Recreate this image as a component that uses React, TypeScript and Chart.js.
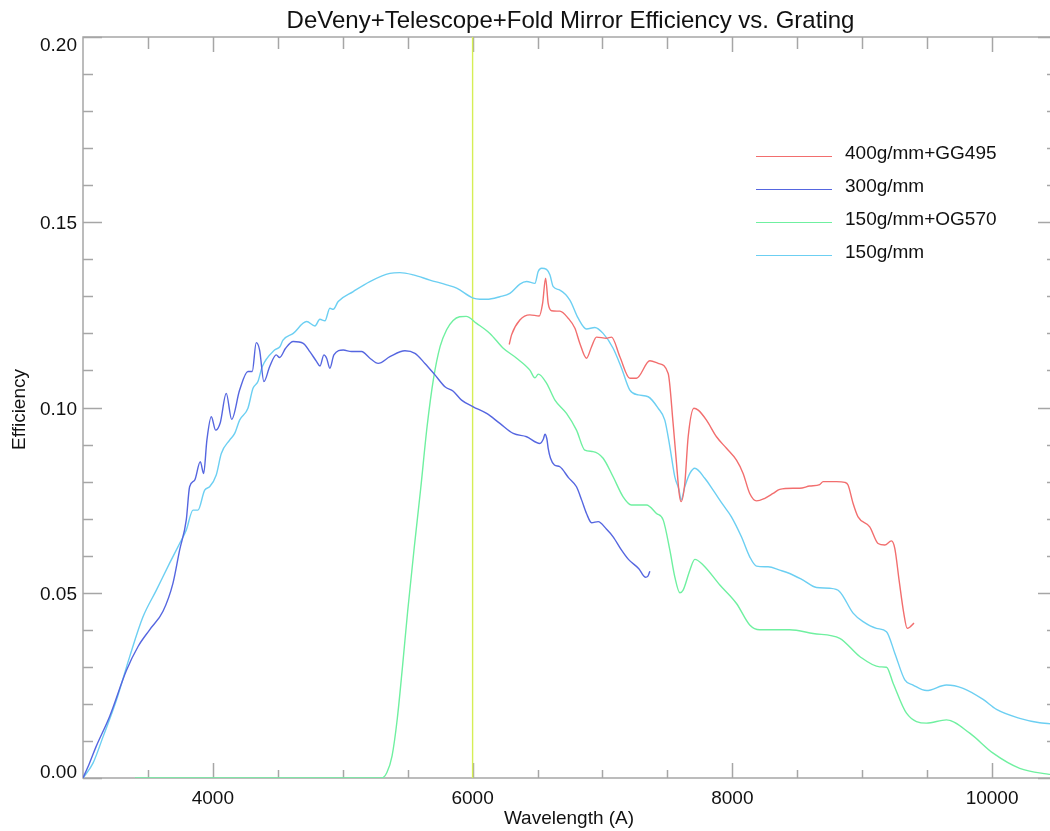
import React, { useEffect, useRef } from "react";
import { Chart, registerables } from "chart.js";

Chart.register(...registerables);

const TITLE = "DeVeny+Telescope+Fold Mirror Efficiency vs. Grating";
const X_TITLE = "Wavelength (A)";
const Y_TITLE = "Efficiency";

const X_MIN = 3000;
const X_MAX = 10500;
const Y_MIN = 0;
const Y_MAX = 0.2;
const X_TICK_LABELS = [4000, 6000, 8000, 10000];
const Y_TICK_LABELS = [0.0, 0.05, 0.1, 0.15, 0.2];
const MARKER_WAVELENGTH = 6000;

const SERIES_NAMES = ["400g/mm+GG495", "300g/mm", "150g/mm+OG570", "150g/mm"];
const SERIES_COLORS = ["#f26e6e", "#5566e0", "#6ff0a0", "#6ccff2"];

// 400g/mm+GG495
const redWl = [6282, 6300, 6364, 6441, 6513, 6539, 6562, 6582, 6608, 6672, 6736, 6788, 6826, 6877, 6916, 6954, 7031, 7070, 7134, 7211, 7262, 7365, 7429, 7506, 7544, 7570, 7590, 7605, 7634, 7660, 7704, 7737, 7801, 7878, 7955, 8032, 8083, 8134, 8186, 8250, 8314, 8365, 8468, 8519, 8596, 8673, 8699, 8802, 8866, 8891, 8930, 8968, 9058, 9122, 9174, 9225, 9251, 9284, 9320, 9346, 9366, 9399];
const redEff = [0.117, 0.1196, 0.1236, 0.125, 0.1247, 0.1281, 0.1349, 0.1281, 0.1261, 0.126, 0.1241, 0.1214, 0.1173, 0.1133, 0.1164, 0.119, 0.1187, 0.119, 0.1137, 0.1079, 0.1079, 0.1126, 0.1119, 0.1092, 0.0957, 0.085, 0.077, 0.0746, 0.0795, 0.0921, 0.0998, 0.0993, 0.0966, 0.0921, 0.089, 0.0858, 0.0822, 0.0768, 0.0748, 0.0755, 0.0768, 0.0779, 0.0782, 0.0782, 0.0788, 0.0792, 0.08, 0.08, 0.0798, 0.0791, 0.0741, 0.0705, 0.0678, 0.0633, 0.0629, 0.064, 0.062, 0.0534, 0.0445, 0.0404, 0.0407, 0.0418];

// 300g/mm
const blueWl = [3000, 3050, 3100, 3205, 3334, 3424, 3513, 3616, 3693, 3744, 3795, 3821, 3860, 3903, 3929, 3954, 3988, 4021, 4057, 4103, 4145, 4206, 4270, 4303, 4334, 4360, 4393, 4437, 4488, 4514, 4560, 4619, 4696, 4748, 4799, 4825, 4855, 4876, 4901, 4932, 5004, 5068, 5145, 5209, 5273, 5363, 5479, 5556, 5633, 5710, 5787, 5851, 5915, 6005, 6108, 6210, 6313, 6416, 6518, 6545, 6557, 6572, 6582, 6600, 6630, 6672, 6740, 6800, 6840, 6877, 6916, 6967, 7030, 7082, 7147, 7200, 7280, 7330, 7350, 7365];
const blueEff = [0.0, 0.004, 0.0084, 0.0166, 0.029, 0.0355, 0.04, 0.045, 0.0526, 0.0615, 0.0696, 0.0786, 0.0804, 0.0854, 0.0822, 0.0912, 0.0975, 0.0939, 0.0959, 0.1038, 0.0968, 0.1047, 0.1097, 0.1097, 0.1175, 0.1155, 0.107, 0.111, 0.1142, 0.1135, 0.116, 0.1178, 0.1173, 0.115, 0.1124, 0.1112, 0.1142, 0.1133, 0.1106, 0.1142, 0.1155, 0.1151, 0.1151, 0.1133, 0.1119, 0.1137, 0.1153, 0.1146, 0.1119, 0.1088, 0.1056, 0.1044, 0.102, 0.1002, 0.0984, 0.0957, 0.093, 0.0921, 0.0903, 0.0915, 0.0928, 0.0915, 0.089, 0.0863, 0.0845, 0.084, 0.081, 0.0786, 0.075, 0.0714, 0.0689, 0.0692, 0.0672, 0.0651, 0.0615, 0.059, 0.0565, 0.0542, 0.0545, 0.0558];

// 150g/mm+OG570
const greenWl = [3400, 5300, 5340, 5380, 5420, 5460, 5500, 5550, 5600, 5650, 5700, 5750, 5800, 5850, 5900, 5950, 6031, 6133, 6236, 6339, 6441, 6480, 6506, 6570, 6634, 6723, 6800, 6864, 6928, 7005, 7082, 7159, 7223, 7339, 7416, 7468, 7519, 7557, 7596, 7621, 7673, 7711, 7775, 7904, 8032, 8134, 8211, 8442, 8622, 8827, 8981, 9135, 9187, 9238, 9341, 9495, 9649, 9828, 10008, 10213, 10418, 10500];
const greenEff = [0.0, 0.0, 0.0015, 0.006, 0.016, 0.03, 0.045, 0.062, 0.078, 0.095, 0.108, 0.1165, 0.121, 0.1235, 0.1245, 0.1246, 0.1227, 0.12, 0.116, 0.1133, 0.1101, 0.108, 0.109, 0.1065, 0.102, 0.0984, 0.0939, 0.0885, 0.0881, 0.0863, 0.0813, 0.0759, 0.0737, 0.0737, 0.0714, 0.0696, 0.0615, 0.0543, 0.05, 0.0507, 0.0561, 0.059, 0.0575, 0.0521, 0.0471, 0.0413, 0.04, 0.04, 0.039, 0.0377, 0.0328, 0.03, 0.0299, 0.0256, 0.0175, 0.0148, 0.0157, 0.0121, 0.0067, 0.0026, 0.0011, 0.0008];

// 150g/mm
const cyanWl = [3000, 3077, 3154, 3257, 3359, 3462, 3565, 3667, 3744, 3795, 3847, 3885, 3937, 3975, 4026, 4065, 4129, 4168, 4206, 4270, 4309, 4347, 4380, 4475, 4516, 4540, 4619, 4722, 4786, 4824, 4863, 4901, 4927, 4965, 5081, 5209, 5363, 5440, 5543, 5671, 5800, 5877, 6005, 6056, 6108, 6210, 6287, 6364, 6416, 6480, 6505, 6531, 6569, 6595, 6621, 6672, 6749, 6813, 6877, 6941, 7005, 7082, 7147, 7211, 7275, 7352, 7429, 7480, 7519, 7557, 7590, 7605, 7634, 7673, 7711, 7788, 7852, 7929, 7993, 8070, 8134, 8186, 8275, 8365, 8442, 8545, 8648, 8750, 8827, 8930, 9007, 9110, 9187, 9251, 9328, 9392, 9495, 9649, 9777, 9931, 10034, 10213, 10367, 10500];
const cyanEff = [0.0, 0.004, 0.0111, 0.021, 0.0327, 0.0435, 0.0507, 0.058, 0.0633, 0.0669, 0.0723, 0.0723, 0.0777, 0.0786, 0.0818, 0.0876, 0.0912, 0.093, 0.0966, 0.0998, 0.1052, 0.107, 0.111, 0.1155, 0.1164, 0.1182, 0.12, 0.1232, 0.122, 0.1238, 0.1234, 0.1268, 0.1265, 0.1286, 0.1313, 0.134, 0.1362, 0.1364, 0.1358, 0.1344, 0.1331, 0.1322, 0.1295, 0.1292, 0.1292, 0.1299, 0.1308, 0.1333, 0.134, 0.1335, 0.1367, 0.1376, 0.1373, 0.1358, 0.1326, 0.1317, 0.129, 0.1241, 0.1212, 0.1216, 0.12, 0.116, 0.1106, 0.1047, 0.1034, 0.1029, 0.0998, 0.0966, 0.0894, 0.0813, 0.0777, 0.075, 0.0786, 0.0822, 0.0836, 0.0809, 0.0777, 0.0737, 0.0705, 0.0651, 0.0597, 0.0572, 0.057, 0.0561, 0.0552, 0.0534, 0.0514, 0.0512, 0.0503, 0.0445, 0.0422, 0.0404, 0.0395, 0.0337, 0.0265, 0.0251, 0.0236, 0.0251, 0.0242, 0.0212, 0.0185, 0.0161, 0.0149, 0.0145];

const SERIES_WL = [redWl, blueWl, greenWl, cyanWl];
const SERIES_EFF = [redEff, blueEff, greenEff, cyanEff];

const FONT = "'Liberation Sans', Arial, Helvetica, sans-serif";
const AXIS_COLOR = "#a6a6a6";
const TEXT_COLOR = "#111111";
const MARKER_COLOR = "#d6ee55";

const idlFrame = {
  id: "idlFrame",
  beforeDatasetsDraw(chart: any) {
    const { ctx, chartArea: a, scales } = chart;
    const xs = scales.x;
    const ys = scales.y;
    ctx.save();
    ctx.strokeStyle = AXIS_COLOR;
    ctx.lineWidth = 1.5;
    ctx.strokeRect(a.left, a.top, a.right - a.left, a.bottom - a.top);
    ctx.beginPath();
    for (let v = X_MIN + 500; v < X_MAX; v += 500) {
      const major = v % 2000 === 0;
      const px = Math.round(xs.getPixelForValue(v)) + 0.5;
      ctx.moveTo(px, a.bottom);
      ctx.lineTo(px, a.bottom - (major ? 15 : 8));
      ctx.moveTo(px, a.top);
      ctx.lineTo(px, a.top + (major ? 15 : 12));
    }
    for (let i = 0; i <= 20; i++) {
      const v = i * 0.01;
      const major = i % 5 === 0;
      const py = Math.round(ys.getPixelForValue(v)) + 0.5;
      ctx.moveTo(a.left, py);
      ctx.lineTo(a.left + (major ? 19 : 10), py);
      ctx.moveTo(a.right, py);
      ctx.lineTo(a.right - (major ? 19 : 10), py);
    }
    ctx.stroke();
    ctx.restore();
  },
  afterDraw(chart: any) {
    const { ctx, chartArea: a, scales } = chart;
    const xs = scales.x;
    const ys = scales.y;
    ctx.save();
    ctx.fillStyle = TEXT_COLOR;
    // title
    ctx.font = `24px ${FONT}`;
    ctx.textAlign = "center";
    ctx.textBaseline = "alphabetic";
    ctx.fillText(TITLE, (a.left + 1050) / 2 + 4, 28);
    // x tick labels
    ctx.font = `19px ${FONT}`;
    for (const v of X_TICK_LABELS) {
      ctx.fillText(String(v), xs.getPixelForValue(v), 804);
    }
    // y tick labels
    ctx.textAlign = "right";
    for (const v of Y_TICK_LABELS) {
      const py = ys.getPixelForValue(v);
      let base = py + 7;
      if (v === Y_MAX) base = py + 14;
      if (v === Y_MIN) base = py;
      ctx.fillText(v.toFixed(2), a.left - 6, base);
    }
    // axis titles
    ctx.textAlign = "center";
    ctx.font = `19px ${FONT}`;
    ctx.fillText(X_TITLE, 569, 824);
    ctx.save();
    ctx.translate(25, (a.top + a.bottom) / 2 + 2);
    ctx.rotate(-Math.PI / 2);
    ctx.fillText(Y_TITLE, 0, 0);
    ctx.restore();
    // legend
    ctx.font = `19px ${FONT}`;
    ctx.textAlign = "left";
    SERIES_NAMES.forEach((name, i) => {
      const y = 156.5 + i * 33;
      ctx.strokeStyle = SERIES_COLORS[i];
      ctx.lineWidth = 1.2;
      ctx.beginPath();
      ctx.moveTo(756, y);
      ctx.lineTo(832, y);
      ctx.stroke();
      ctx.fillStyle = TEXT_COLOR;
      ctx.fillText(name, 845, y + 2);
    });
    ctx.restore();
  },
};

export default function App() {
  const ref = useRef<HTMLCanvasElement | null>(null);
  useEffect(() => {
    document.body.style.margin = "0";
    const canvas = ref.current;
    if (!canvas) return;
    const datasets: any[] = SERIES_NAMES.map((name, i) => ({
      label: name,
      data: SERIES_WL[i].map((w, k) => ({ x: w, y: SERIES_EFF[i][k] })),
      borderColor: SERIES_COLORS[i],
      borderWidth: 1.4,
      pointRadius: 0,
      cubicInterpolationMode: "monotone",
      fill: false,
    }));
    datasets.push({
      label: "marker",
      data: [
        { x: MARKER_WAVELENGTH, y: Y_MIN },
        { x: MARKER_WAVELENGTH, y: Y_MAX },
      ],
      borderColor: MARKER_COLOR,
      borderWidth: 1.4,
      pointRadius: 0,
    });
    const chart = new Chart(canvas, {
      type: "line",
      data: { datasets },
      options: {
        animation: false,
        responsive: false,
        devicePixelRatio: 1,
        layout: { padding: { left: 83, top: 37, right: 3, bottom: 53 } },
        scales: {
          x: { type: "linear", min: X_MIN, max: X_MAX, display: false },
          y: { type: "linear", min: Y_MIN, max: Y_MAX, display: false },
        },
        plugins: {
          legend: { display: false },
          tooltip: { enabled: false },
          title: { display: false },
        },
      },
      plugins: [idlFrame],
    } as any);
    return () => chart.destroy();
  }, []);
  return (
    <div
      style={{
        position: "fixed",
        left: 0,
        top: 0,
        width: 1050,
        height: 831,
        overflow: "hidden",
        background: "#ffffff",
      }}
    >
      <canvas ref={ref} width={1060} height={831} style={{ display: "block" }} />
    </div>
  );
}
